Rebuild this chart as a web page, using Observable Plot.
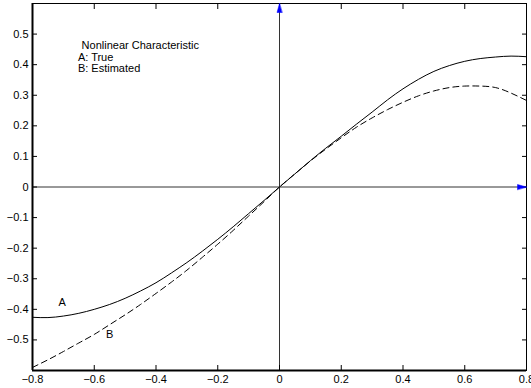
<!DOCTYPE html>
<html><head><meta charset="utf-8">
<script src="https://cdn.jsdelivr.net/npm/d3@7"></script>
<script src="https://cdn.jsdelivr.net/npm/@observablehq/plot@0.6"></script>
<style>body{margin:0;background:#fff;} svg{display:block}</style>
</head><body><div id="chart"></div><script>
const xDomain = [-0.8, 0.8];
const yDomain = [-0.6, 0.6];
const xTicks = [-0.8, -0.6, -0.4, -0.2, 0, 0.2, 0.4, 0.6, 0.8];
const yTicks = [-0.5, -0.4, -0.3, -0.2, -0.1, 0, 0.1, 0.2, 0.3, 0.4, 0.5];
const xs = [-0.8, -0.75, -0.7, -0.65, -0.6, -0.55, -0.5, -0.45, -0.4, -0.35, -0.3, -0.25, -0.2, -0.15, -0.1, -0.05, 0,
            0.05, 0.1, 0.15, 0.2, 0.25, 0.3, 0.35, 0.4, 0.45, 0.5, 0.55, 0.6, 0.65, 0.7, 0.75, 0.8];
const trueVals = [-0.426, -0.427, -0.422, -0.413, -0.400, -0.384, -0.364, -0.340, -0.313, -0.281, -0.247, -0.210, -0.171, -0.130, -0.087, -0.044, 0,
                  0.043, 0.086, 0.127, 0.166, 0.206, 0.245, 0.285, 0.321, 0.352, 0.378, 0.397, 0.411, 0.420, 0.425, 0.428, 0.426];
const estVals = [-0.590, -0.565, -0.538, -0.510, -0.482, -0.450, -0.418, -0.384, -0.348, -0.311, -0.272, -0.230, -0.187, -0.142, -0.095, -0.048, 0,
                 0.043, 0.085, 0.124, 0.161, 0.196, 0.226, 0.253, 0.277, 0.298, 0.314, 0.325, 0.330, 0.330, 0.325, 0.307, 0.283];
const legendLines = ["Nonlinear Characteristic", "A: True", "B: Estimated"];
const curveLabels = ["A", "B"];

const trueData = xs.map((x, i) => ({x, y: trueVals[i]}));
const estData = xs.map((x, i) => ({x, y: estVals[i]}));
const fmt = d => d === 0 ? "0" : d3.format(".1f")(d);
const triangle = {draw(ctx, l, r) { ctx.moveTo(0, -l); ctx.lineTo(-r, 0); ctx.lineTo(r, 0); ctx.closePath(); }};

const chart = Plot.plot({
  width: 531, height: 388,
  marginLeft: 32, marginRight: 5, marginTop: 3, marginBottom: 18,
  x: {domain: xDomain, label: null},
  y: {domain: yDomain, label: null},
  style: {fontFamily: "'Liberation Sans', Arial, sans-serif", fontSize: "11px", background: "white", color: "black"},
  marks: [
    Plot.ruleX([0], {stroke: "#333", strokeWidth: 1}),
    Plot.ruleY([0], {stroke: "#333", strokeWidth: 1}),
    Plot.line(trueData, {x: "x", y: "y", curve: "natural", stroke: "black", strokeWidth: 1}),
    Plot.line(estData, {x: "x", y: "y", curve: "natural", stroke: "black", strokeWidth: 1, strokeDasharray: "6,4"}),
    Plot.frame({stroke: "black", strokeWidth: 1}),
    Plot.ruleX([xDomain[0]], {stroke: "black", strokeWidth: 2}),
    Plot.ruleY([yDomain[0]], {stroke: "black", strokeWidth: 2}),
    Plot.axisX(xTicks, {anchor: "bottom", tickSize: -5, tickPadding: 10, tickFormat: fmt, label: null}),
    Plot.axisX(xTicks, {anchor: "top", tickSize: -5, tickFormat: () => "", label: null}),
    Plot.axisY(yTicks, {anchor: "left", tickSize: -5, tickPadding: 9, tickFormat: fmt, label: null}),
    Plot.axisY(yTicks, {anchor: "right", tickSize: -5, tickFormat: () => "", label: null}),
    Plot.vector([{x: 0, y: yDomain[1]}], {x: "x", y: "y", anchor: "end", length: 9, r: 2.5, rotate: 0, shape: triangle, fill: "blue", stroke: "blue", strokeWidth: 0.5}),
    Plot.vector([{x: xDomain[1], y: 0}], {x: "x", y: "y", anchor: "end", length: 9, r: 2.5, rotate: 90, shape: triangle, fill: "blue", stroke: "blue", strokeWidth: 0.5}),
    Plot.text([legendLines[0]], {x: -0.641, y: 0.462, text: d => d, textAnchor: "start", fontSize: 11}),
    Plot.text([legendLines[1]], {x: -0.653, y: 0.424, text: d => d, textAnchor: "start", fontSize: 11}),
    Plot.text([legendLines[2]], {x: -0.653, y: 0.386, text: d => d, textAnchor: "start", fontSize: 11}),
    Plot.text([curveLabels[0]], {x: -0.704, y: -0.378, text: d => d, fontSize: 11}),
    Plot.text([curveLabels[1]], {x: -0.550, y: -0.481, text: d => d, fontSize: 11})
  ]
});
document.getElementById("chart").appendChild(chart);
</script></body></html>
